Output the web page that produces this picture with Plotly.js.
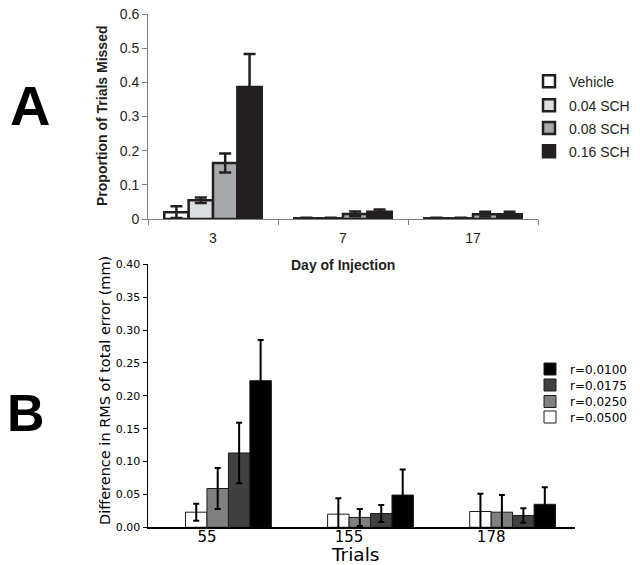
<!DOCTYPE html>
<html><head><meta charset="utf-8">
<script src="https://cdn.plot.ly/plotly-3.0.1.min.js"></script>
<style>html,body{margin:0;padding:0;background:#fff}#chart{width:640px;height:565px}</style>
</head><body><div id="chart"></div>
<script>
// ---- Panel A data ----
const days = ['3', '7', '17'];
const doseNames = ['Vehicle', '0.04 SCH', '0.08 SCH', '0.16 SCH'];
const vehicle = [0.020, 0.002, 0.002];
const vehicleErr = [0.017, 0.002, 0.002];
const sch004 = [0.055, 0.002, 0.002];
const sch004Err = [0.008, 0.002, 0.002];
const sch008 = [0.164, 0.015, 0.014];
const sch008Err = [0.028, 0.007, 0.007];
const sch016 = [0.386, 0.021, 0.014];
const sch016Err = [0.097, 0.007, 0.007];
const titleA = {x: 'Day of Injection', y: 'Proportion of Trials Missed'};

// ---- Panel B data ----
const trials = ['55', '155', '178'];
const rNames = ['r=0.0500', 'r=0.0250', 'r=0.0175', 'r=0.0100'];
const r0500 = [0.023, 0.020, 0.024];
const r0500Err = [0.013, 0.024, 0.027];
const r0250 = [0.059, 0.015, 0.023];
const r0250Err = [0.031, 0.013, 0.026];
const r0175 = [0.113, 0.021, 0.018];
const r0175Err = [0.046, 0.013, 0.011];
const r0100 = [0.223, 0.049, 0.035];
const r0100Err = [0.062, 0.039, 0.026];
const titleB = {x: 'Trials', y: 'Difference in RMS of total error (mm)'};

const W = 640, H = 565;
const px = v => v / W;
const py = v => 1 - v / H;

const ink = '#231f20';
const fA = 'Liberation Sans, Arial, sans-serif';
const fB = 'DejaVu Sans, sans-serif';

const aVals = [vehicle, sch004, sch008, sch016];
const aErrs = [vehicleErr, sch004Err, sch008Err, sch016Err];
const aColors = ['#ffffff', '#dcddde', '#a7a9ac', ink];
const aLegendY = [81.7, 105.7, 128.5, 151.7];

const traces = [];
aVals.forEach((vals, i) => {
  traces.push({
    type: 'bar', name: doseNames[i], x: days, y: vals,
    xaxis: 'x', yaxis: 'y',
    legend: i === 0 ? 'legend' : 'legend' + (i + 1),
    marker: {color: aColors[i], line: {color: ink, width: 2.5}},
    error_y: {type: 'data', array: aErrs[i], color: ink, thickness: 2.5, width: 6},
    hoverinfo: 'skip'
  });
});

const bVals = [r0500, r0250, r0175, r0100];
const bErrs = [r0500Err, r0250Err, r0175Err, r0100Err];
const bColors = ['#ffffff', '#808080', '#404040', '#000000'];
const bLegendY = [417, 401.5, 385, 369];
const bw = 0.151;
bVals.forEach((vals, i) => {
  traces.push({
    type: 'bar', name: rNames[i], x: trials, y: vals,
    xaxis: 'x2', yaxis: 'y2',
    legend: 'legend' + (i + 5),
    width: bw, offset: (i - 1) * bw,
    marker: {color: bColors[i], line: {color: '#1a1a1a', width: 1}},
    error_y: {type: 'data', array: bErrs[i], color: '#000', thickness: 2, width: 3},
    hoverinfo: 'skip'
  });
});

const layout = {
  width: W, height: H,
  margin: {l: 0, r: 0, t: 0, b: 0},
  paper_bgcolor: '#fff', plot_bgcolor: '#fff',
  barmode: 'group', bargap: 0.25, bargroupgap: 0,
  showlegend: true,
  xaxis: {
    domain: [px(148), px(538)], anchor: 'y', type: 'category', range: [-0.5, 2.5],
    tickson: 'boundaries', ticks: 'outside', ticklen: 5, tickcolor: '#808080',
    showline: true, linecolor: '#808080', linewidth: 1, showgrid: false, zeroline: false,
    tickfont: {family: fA, size: 14, color: ink}, ticklabelstandoff: 6,
    automargin: false
  },
  yaxis: {
    domain: [py(219), py(14)], anchor: 'x', range: [0, 0.6], dtick: 0.1,
    ticks: 'outside', ticklen: 5, tickcolor: '#808080',
    showline: true, linecolor: '#808080', linewidth: 1, showgrid: false, zeroline: false,
    tickfont: {family: fA, size: 14, color: ink},
    automargin: false
  },
  xaxis2: {
    domain: [px(148), px(575)], anchor: 'y2', type: 'category', range: [-0.415, 2.59],
    ticks: '', showline: true, linecolor: '#000', linewidth: 1.5, showgrid: false, zeroline: false,
    tickfont: {family: fB, size: 15, color: '#000'}, ticklabelstandoff: -5,
    automargin: false
  },
  yaxis2: {
    domain: [py(527.3), py(264.3)], anchor: 'x2', range: [0, 0.40], dtick: 0.05, tickformat: '.2f',
    ticks: 'outside', ticklen: 4, tickcolor: '#000',
    showline: true, linecolor: '#000', linewidth: 1.5, showgrid: false, zeroline: false,
    tickfont: {family: fB, size: 11, color: '#000'},
    automargin: false
  },
  annotations: [
    {text: 'A', xref: 'paper', yref: 'paper', x: px(30), y: py(105), xanchor: 'center', yanchor: 'middle',
     showarrow: false, font: {family: fA, size: 56, weight: 900, color: '#000'}},
    {text: 'B', xref: 'paper', yref: 'paper', x: px(26), y: py(413), xanchor: 'center', yanchor: 'middle',
     showarrow: false, font: {family: fA, size: 52, weight: 900, color: '#000'}},
    // axis titles
    {text: titleA.x, xref: 'paper', yref: 'paper', x: px(343), y: py(265), xanchor: 'center', yanchor: 'middle',
     showarrow: false, font: {family: fA, size: 14, weight: 700, color: ink}},
    {text: titleA.y, xref: 'paper', yref: 'paper', x: px(102), y: py(116), xanchor: 'center', yanchor: 'middle',
     textangle: -90, showarrow: false, font: {family: fA, size: 14, weight: 700, color: ink}},
    {text: titleB.x, xref: 'paper', yref: 'paper', x: px(355), y: py(554.5), xanchor: 'center', yanchor: 'middle',
     showarrow: false, font: {family: fB, size: 18.5, color: '#000'}},
    {text: titleB.y, xref: 'paper', yref: 'paper', x: px(105), y: py(391), xanchor: 'center', yanchor: 'middle',
     textangle: -90, showarrow: false, font: {family: fB, size: 14.5, color: '#000'}}
  ]
};

aLegendY.forEach((y, i) => {
  const key = i === 0 ? 'legend' : 'legend' + (i + 1);
  layout[key] = {x: px(529), y: py(y), xanchor: 'left', yanchor: 'middle', bgcolor: 'rgba(0,0,0,0)',
    borderwidth: 0, font: {family: fA, size: 14, color: ink}};
});
bLegendY.forEach((y, i) => {
  layout['legend' + (i + 5)] = {x: px(530), y: py(y), xanchor: 'left', yanchor: 'middle', bgcolor: 'rgba(0,0,0,0)',
    borderwidth: 0, font: {family: fB, size: 12, color: '#000'}};
});

Plotly.newPlot('chart', traces, layout, {displayModeBar: false, staticPlot: true});
</script>
</body></html>
